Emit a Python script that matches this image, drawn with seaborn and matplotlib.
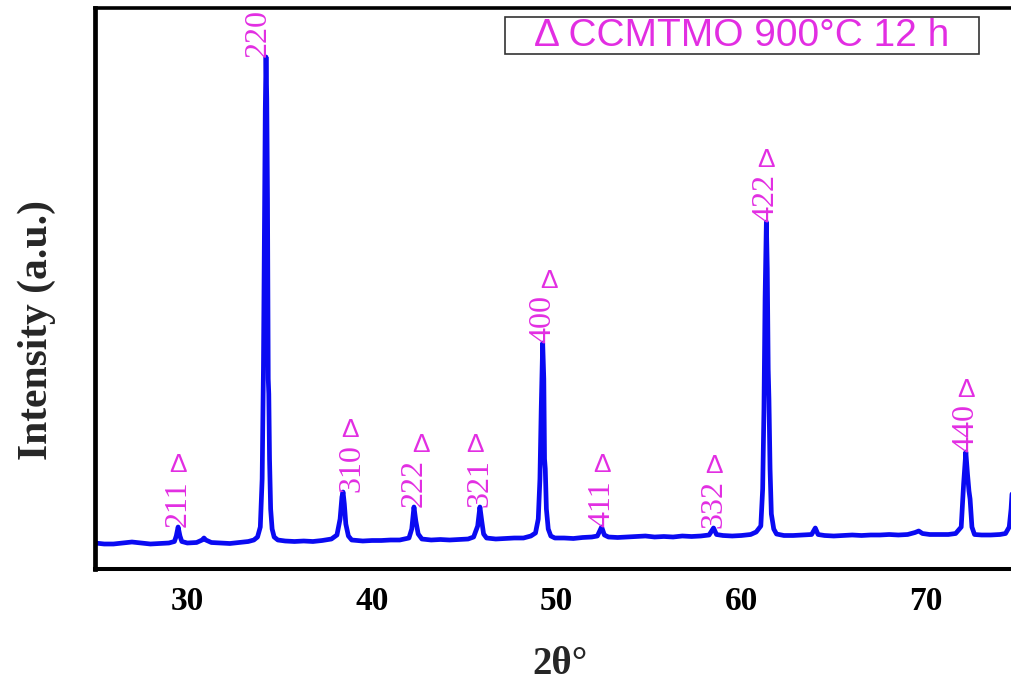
import numpy as np
import pandas as pd
import matplotlib
matplotlib.use("Agg")
import matplotlib.pyplot as plt
from matplotlib.patches import Rectangle
import seaborn as sns

two_theta = [
    25.0, 25.5, 26.0, 26.5, 27.0, 27.5, 28.0, 28.5, 29.0, 29.3, 29.4, 29.5, 29.6, 29.7,
    30.0, 30.5, 30.8, 30.9, 31.0, 31.3, 31.8, 32.3, 32.8, 33.3, 33.6, 33.8, 33.95,
    34.05, 34.12, 34.17, 34.22, 34.26, 34.30, 34.34, 34.38, 34.41, 34.45, 34.51, 34.59,
    34.7, 34.9, 35.3, 35.8, 36.3, 36.8, 37.3, 37.8, 38.1, 38.27, 38.37, 38.43, 38.5,
    38.58, 38.72, 38.9, 39.5, 40.0, 40.5, 41.0, 41.5, 42.0, 42.15, 42.27, 42.37, 42.5,
    42.7, 43.2, 43.7, 44.2, 44.7, 45.2, 45.5, 45.72, 45.84, 45.94, 46.04, 46.2, 46.7,
    47.2, 47.7, 48.2, 48.6, 48.85, 49.0, 49.09, 49.16, 49.24, 49.3, 49.34, 49.38, 49.44,
    49.54, 49.68, 49.9, 50.4, 50.9, 51.4, 51.9, 52.2, 52.43, 52.58, 52.8, 53.3, 53.8,
    54.3, 54.8, 55.3, 55.8, 56.3, 56.8, 57.3, 57.8, 58.25, 58.49, 58.65, 59.0, 59.5,
    60.0, 60.5, 60.8, 61.05, 61.15, 61.22, 61.28, 61.35, 61.4, 61.45, 61.49, 61.55,
    61.62, 61.75, 61.9, 62.3, 62.8, 63.3, 63.8, 64.0, 64.15, 64.5, 65.0, 65.5, 66.0,
    66.5, 67.0, 67.5, 68.0, 68.5, 69.0, 69.4, 69.6, 69.8, 70.2, 70.7, 71.2, 71.6,
    71.9, 72.03, 72.15, 72.24, 72.32, 72.38, 72.48, 72.62, 73.0, 73.5, 74.0, 74.3,
    74.5, 74.6, 74.7,
]
intensity = [
    260, 250, 250, 260, 270, 260, 250, 255, 260, 275, 330, 420, 330, 275,
    260, 265, 290, 310, 290, 265, 260, 255, 265, 275, 290, 320, 420,
    900, 2000, 3300, 4600, 5120, 4700, 3700, 1900, 1750, 1100, 600, 400,
    320, 290, 280, 275, 280, 275, 285, 300, 340, 500, 720, 770, 650,
    450, 330, 290, 280, 285, 285, 290, 290, 310, 400, 620, 480, 350,
    300, 290, 295, 290, 295, 300, 320, 430, 620, 480, 350, 310, 300,
    305, 310, 310, 330, 360, 500, 900, 1600, 2260, 1900, 1100, 1000, 600,
    400, 330, 310, 310, 305, 315, 320, 330, 420, 340, 320, 315, 320,
    325, 330, 320, 325, 320, 330, 325, 330, 340, 410, 345, 335, 330,
    335, 345, 370, 430, 800, 1600, 2700, 3470, 3000, 2000, 1700, 1000,
    550, 400, 350, 335, 335, 340, 345, 410, 345, 335, 330, 335, 340,
    335, 340, 340, 345, 340, 345, 365, 380, 355, 345, 345, 345, 355,
    420, 850, 1170, 950, 780, 700, 420, 345, 340, 340, 345, 355,
    420, 600, 900,
]

hkl_labels = ["211", "220", "310", "222", "321", "400", "411", "332", "422", "440"]
hkl_pos = [29.5, 34.26, 38.43, 42.27, 45.84, 49.24, 52.43, 58.49, 61.35, 72.15]
hkl_marked = [True, False, True, True, True, True, True, True, True, True]

legend_text = "\u0394 CCMTMO 900\u00b0C 12 h"
x_ticks = [30, 40, 50, 60, 70]
x_label = "2\u03b8\u00b0"
y_label = "Intensity (a.u.)"

df = pd.DataFrame({"two_theta": two_theta, "intensity": intensity})

# ---------------- styling ----------------
sns.set_style("white")
plt.rcParams["font.family"] = ["Liberation Serif", "DejaVu Serif"]

MAGENTA = "#E22EE2"
BLUE = "#0A0AF2"

W, H = 1012, 682
fig = plt.figure(figsize=(W / 100, H / 100), dpi=100)
ax_l, ax_r, ax_t, ax_b = 95, 1012, 8, 569
ax = fig.add_axes([ax_l / W, 1 - ax_b / H, (ax_r - ax_l) / W, (ax_b - ax_t) / H])

sns.lineplot(data=df, x="two_theta", y="intensity", ax=ax, color=BLUE,
             linewidth=3.4, estimator=None, sort=False)

ax.set_xlim(25, 74.65)
ax.set_ylim(0, 5610)
ax.set_xticks(x_ticks)
ax.set_xticklabels([str(t) for t in x_ticks], fontsize=24, fontweight="bold")
ax.set_yticks([])
ax.tick_params(axis="x", direction="out", length=10, width=3, pad=2, colors="black")

for side in ["left", "bottom", "top"]:
    ax.spines[side].set_visible(True)
    ax.spines[side].set_color("black")
ax.spines["left"].set_linewidth(3.4)
ax.spines["bottom"].set_linewidth(2.9)
ax.spines["top"].set_linewidth(2.6)
ax.spines["right"].set_visible(False)

ax.set_xlabel(x_label, fontsize=28, fontweight="bold")
ax.xaxis.label.set_va("center")
ax.xaxis.set_label_coords((560 - ax_l) / (ax_r - ax_l), -(665 - ax_b) / (ax_b - ax_t))
ax.set_ylabel(y_label, fontsize=30, fontweight="bold")
ax.yaxis.label.set_va("center")
ax.yaxis.label.set_ha("center")
ax.yaxis.set_label_coords((37 - ax_l) / (ax_r - ax_l), 1 - (330 - ax_t) / (ax_b - ax_t))

# ---------------- peak annotations ----------------
text_dx = {"220": -8, "310": 9}
tri_dx = {"310": 7, "222": 7, "321": -5, "400": 6}
for lab, pos, marked in zip(hkl_labels, hkl_pos, hkl_marked):
    top = np.interp(pos, two_theta, intensity)
    ax.annotate(lab, xy=(pos, top), xytext=(text_dx.get(lab, 0), 0),
                textcoords="offset pixels", rotation=90, ha="center", va="bottom",
                fontsize=23, color=MAGENTA, family=["Liberation Serif"])
    if marked:
        ax.annotate("\u0394", xy=(pos, top), xytext=(tri_dx.get(lab, 0), 62),
                    textcoords="offset pixels", ha="center", va="center",
                    fontsize=19, color=MAGENTA, family=["Liberation Sans", "DejaVu Sans"])

# ---------------- legend box ----------------
bx0, bx1, by0, by1 = 505, 979, 17, 54
ax.add_patch(Rectangle(((bx0 - ax_l) / (ax_r - ax_l), 1 - (by1 - ax_t) / (ax_b - ax_t)),
                       (bx1 - bx0) / (ax_r - ax_l), (by1 - by0) / (ax_b - ax_t),
                       transform=ax.transAxes, facecolor="white", edgecolor="#333333",
                       linewidth=1.2, zorder=5))
ax.text(((bx0 + bx1) / 2 - ax_l) / (ax_r - ax_l), 1 - ((by0 + by1) / 2 - ax_t) / (ax_b - ax_t),
        legend_text, transform=ax.transAxes, ha="center", va="center",
        fontsize=28, color=MAGENTA, family=["Liberation Sans", "DejaVu Sans"], zorder=6)

fig.savefig("out.png", dpi=100)
